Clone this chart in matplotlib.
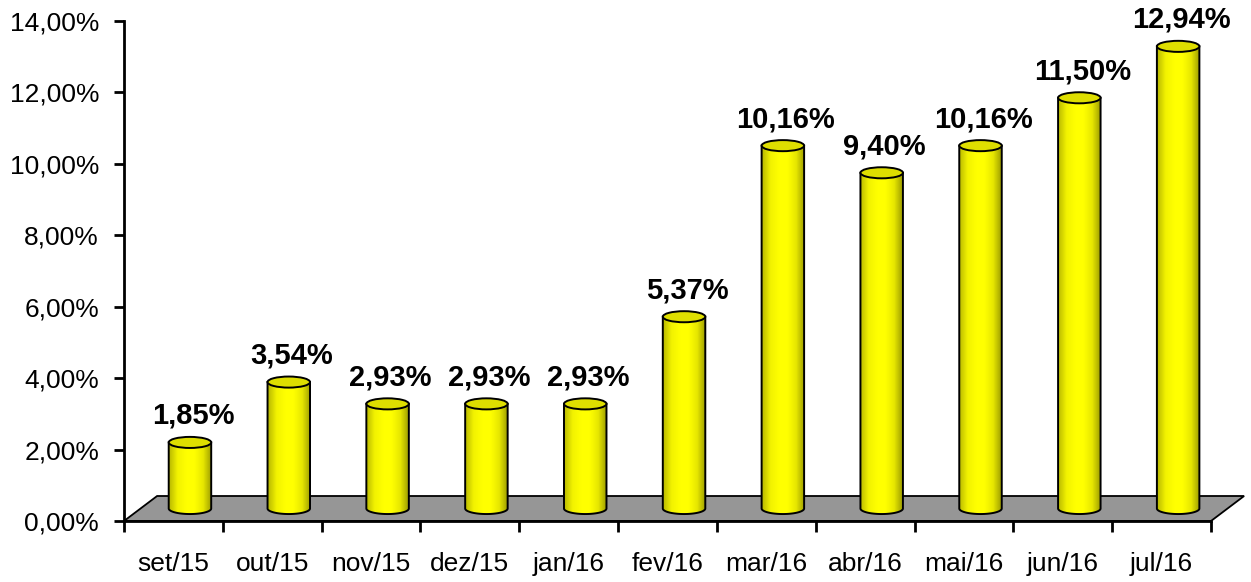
import numpy as np
import matplotlib.pyplot as plt
from matplotlib.patches import Polygon, Ellipse
from matplotlib.colors import LinearSegmentedColormap

plt.rcParams['font.family'] = ['Liberation Sans', 'DejaVu Sans']

meses = ["set/15", "out/15", "nov/15", "dez/15", "jan/16", "fev/16",
         "mar/16", "abr/16", "mai/16", "jun/16", "jul/16"]
valores = [1.85, 3.54, 2.93, 2.93, 2.93, 5.37, 10.16, 9.40, 10.16, 11.50, 12.94]
rotulos = ["1,85%", "3,54%", "2,93%", "2,93%", "2,93%", "5,37%",
           "10,16%", "9,40%", "10,16%", "11,50%", "12,94%"]
yticks = [0, 2, 4, 6, 8, 10, 12, 14]
ytick_labels = ["0,00%", "2,00%", "4,00%", "6,00%", "8,00%", "10,00%", "12,00%", "14,00%"]

W, H = 1251, 582
fig = plt.figure(figsize=(W / 100, H / 100), dpi=100)
ax = fig.add_axes([124 / W, 1 - 521 / H, (1211 - 124) / W, 500 / H])
n = len(meses)
ax.set_xlim(0, n)
ax.set_ylim(0, 14)

# profundidade 3D (em unidades de dados)
dx, dy = 0.335, 0.70
base = 0.35
larg = 0.43
eh = 0.31

# piso cinza
piso = Polygon([[0, 0], [n, 0], [n + dx, dy], [dx, dy]], closed=True,
               facecolor="#969696", edgecolor="black", lw=1.3, clip_on=False, zorder=1)
ax.add_patch(piso)

cmap = LinearSegmentedColormap.from_list("cil", ["#b8b800", "#f2f200", "#ffff00", "#ffff00",
                                                  "#e6e600", "#9a9a00"])
grad = np.linspace(0, 1, 256).reshape(1, -1)

for i, v in enumerate(valores):
    cx = i + 0.5 + dx / 2
    x0, x1 = cx - larg / 2, cx + larg / 2
    topo = base + v
    t = np.linspace(np.pi, 2 * np.pi, 60)
    pts = np.column_stack([cx + larg / 2 * np.cos(t), base + eh / 2 * np.sin(t)])
    pts = np.vstack([pts, [[x1, topo], [x0, topo]]])
    corpo = Polygon(pts, closed=True, facecolor="none", edgecolor="black", lw=1.4,
                    clip_on=False, zorder=3)
    ax.add_patch(corpo)
    im = ax.imshow(grad, cmap=cmap, aspect="auto", extent=[x0, x1, base - eh / 2, topo],
                   zorder=2, interpolation="bilinear")
    im.set_clip_path(corpo)
    tampa = Ellipse((cx, topo), larg, eh, facecolor="#dede00", edgecolor="black",
                    lw=1.4, zorder=4, clip_on=False)
    ax.add_patch(tampa)
    ax.annotate(rotulos[i], (cx + 0.03, topo), xytext=(0, 9), textcoords="offset points",
                ha="center", va="bottom", fontsize=21, fontweight="bold",
                annotation_clip=False, zorder=5)

ax.spines["top"].set_visible(False)
ax.spines["right"].set_visible(False)
ax.spines["left"].set_linewidth(2)
ax.spines["bottom"].set_linewidth(2)
ax.set_yticks(yticks)
ax.set_yticklabels(ytick_labels, fontsize=19)
ax.set_xticks(np.arange(n + 1))
ax.set_xticklabels([])
ax.set_xticks(np.arange(n) + 0.5, minor=True)
ax.set_xticklabels(meses, minor=True, fontsize=19)
ax.tick_params(axis="x", which="minor", length=0, pad=22)
ax.tick_params(axis="x", which="major", length=8, width=2, direction="out")
ax.tick_params(axis="y", length=7, width=2, pad=11)
ax.set_xlim(0, n)
ax.set_ylim(0, 14)

fig.savefig("out.png", dpi=100)
